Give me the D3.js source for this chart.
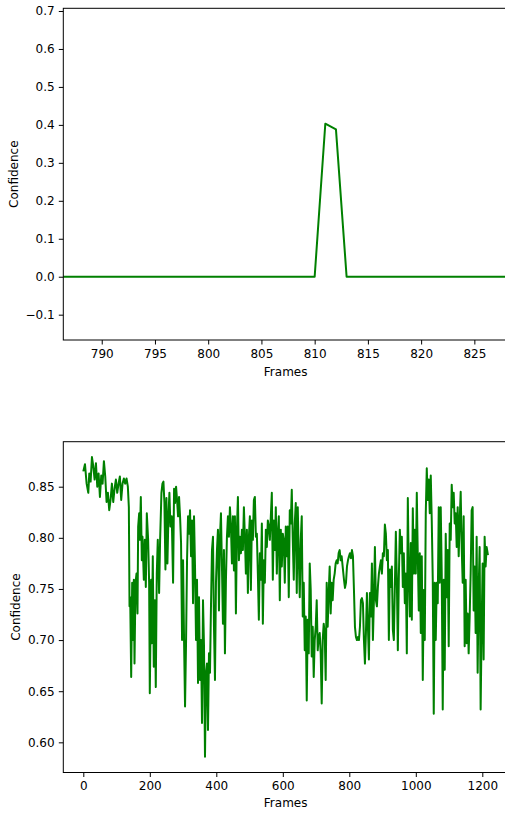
<!DOCTYPE html>
<html>
<head>
<meta charset="utf-8">
<script src="https://cdn.jsdelivr.net/npm/d3@7"></script>
<style>
  body { margin: 0; background: #fff; }
  svg { display: block; font-family: "DejaVu Sans", sans-serif; }
</style>
</head>
<body>
<svg id="chart" width="505" height="813"></svg>
<script>
// ---- Upper panel: confidence around frame 810 ----
const peakFrames = d3.range(786, 830);
const peakValues = [
  0, 0, 0, 0, 0, 0, 0, 0, 0, 0,      // 786-795
  0, 0, 0, 0, 0, 0, 0, 0, 0, 0,      // 796-805
  0, 0, 0, 0, 0, 0.403, 0.388, 0, 0, 0, // 806-815
  0, 0, 0, 0, 0, 0, 0, 0, 0, 0,      // 816-825
  0, 0, 0, 0                         // 826-829
];
const peakXTicks = [790, 795, 800, 805, 810, 815, 820, 825];
const peakYTicks = [-0.1, 0.0, 0.1, 0.2, 0.3, 0.4, 0.5, 0.6, 0.7];

// ---- Lower panel: confidence over the whole clip, [frame, confidence] ----
const traceStart = [
  [0,0.865],[5,0.872],[10,0.853],[15,0.844],[18,0.863],[22,0.855],[26,0.879],[30,0.870],[34,0.857],[38,0.873],
  [42,0.850],[46,0.863],[50,0.840],[54,0.861],[58,0.853],[62,0.875],[66,0.860],[70,0.835],[74,0.844],[78,0.827],
  [82,0.837],[86,0.853],[90,0.835],[94,0.848],[98,0.857],[102,0.844],[106,0.853],[110,0.860],[114,0.837],[118,0.853],
  [122,0.858],[126,0.853],[130,0.858],[134,0.850],[137,0.830],[139,0.733],[141,0.742],[144,0.664],[147,0.756],[150,0.700],
  [152,0.759],[154,0.677],[157,0.756],[160,0.765],[163,0.726],[165,0.811],[168,0.824],[170,0.798],[173,0.840],[176,0.778],
  [178,0.801],[182,0.759],[185,0.798],[188,0.752],[191,0.824],[195,0.798],[198,0.756],[200,0.648]
];
const traceEarly = [
  [204,0.759],[206,0.697],[209,0.782],[212,0.674],[215,0.739],[218,0.654],[221,0.765],[224,0.798],[228,0.746],[231,0.798],
  [235,0.844],[238,0.853],[241,0.855],[244,0.834],[247,0.769],[250,0.839],[253,0.775],[256,0.821],[259,0.844],[262,0.811],
  [266,0.821],[270,0.756],[273,0.848],[276,0.834],[279,0.850],[282,0.837],[285,0.821],[288,0.840],[291,0.821],[294,0.795],
  [297,0.700],[300,0.778],[303,0.700],[306,0.635],[309,0.697],[312,0.778],[315,0.821],[318,0.804],[321,0.827],[324,0.782],
  [327,0.817],[330,0.736],[333,0.821],[336,0.772],[339,0.700],[342,0.759],[345,0.658],[348,0.742],[351,0.661],[354,0.700],
  [357,0.619],[360,0.739],[363,0.694],[366,0.586],[369,0.668],[372,0.677],[375,0.612],[378,0.687],[381,0.668],[384,0.733],
  [387,0.788],[390,0.801],[393,0.713],[396,0.661],[399,0.756],[402,0.788],[405,0.808],[408,0.729],[411,0.801],[414,0.824],
  [417,0.772],[420,0.716],[423,0.788],[426,0.687],[429,0.759],[432,0.801],[435,0.821],[438,0.801],[441,0.830],[444,0.811],
  [447,0.775],[450,0.821],[453,0.768]
];
const traceMiddle = [
  [456,0.821],[459,0.726],[462,0.808],[465,0.840],[468,0.778],[471,0.801],[474,0.785],[477,0.808],[480,0.788],[483,0.830],
  [486,0.801],[489,0.765],[492,0.808],[495,0.746],[498,0.801],[501,0.821],[504,0.749],[507,0.817],[510,0.798],[513,0.837],
  [516,0.840],[519,0.801],[522,0.804],[525,0.765],[528,0.720],[531,0.785],[534,0.759],[537,0.814],[540,0.716],[543,0.778],
  [546,0.756],[549,0.808],[552,0.791],[555,0.817],[558,0.811],[561,0.798],[564,0.821],[567,0.844],[570,0.759],[573,0.817],
  [576,0.788],[579,0.830],[582,0.765],[585,0.804],[588,0.821],[591,0.739],[594,0.808],[597,0.772],[600,0.804],[603,0.798],
  [606,0.756],[609,0.811],[612,0.782],[615,0.811],[618,0.742],[621,0.827],[624,0.814],[627,0.847],[630,0.798],[633,0.759],
  [636,0.814],[639,0.834],[642,0.746],[645,0.830],[648,0.782],[651,0.742],[654,0.798],[657,0.821],[660,0.723],[663,0.756],
  [666,0.690],[669,0.723],[672,0.641],[675,0.720],[678,0.687],[681,0.775],[684,0.749],[687,0.684],[690,0.713],[693,0.664],
  [696,0.700],[699,0.713],[702,0.739],[705,0.690],[708,0.703]
];
const traceLate = [
  [711,0.707],[714,0.687],[717,0.638],[720,0.700],[723,0.716],[726,0.707],[729,0.661],[732,0.756],[735,0.713],[738,0.746],
  [741,0.772],[744,0.726],[747,0.756],[750,0.739],[753,0.759],[756,0.765],[759,0.775],[762,0.778],[765,0.775],[768,0.785],
  [771,0.788],[774,0.778],[777,0.782],[780,0.772],[784,0.759],[787,0.751],[790,0.756],[793,0.772],[796,0.778],[799,0.782],
  [802,0.785],[805,0.780],[808,0.788],[811,0.782],[814,0.749],[817,0.713],[820,0.703],[823,0.700],[826,0.703],[829,0.700],
  [832,0.713],[835,0.739],[838,0.741],[841,0.736],[844,0.700],[847,0.677],[850,0.707],[853,0.746],[856,0.713],[859,0.681],
  [862,0.746],[865,0.723],[868,0.775],[871,0.700],[874,0.739],[877,0.791],[880,0.739],[883,0.733],[886,0.752],[889,0.765],
  [892,0.772],[895,0.778],[898,0.765],[901,0.785],[904,0.782],[907,0.813],[910,0.804],[913,0.778],[916,0.788],[919,0.700],
  [922,0.769],[925,0.752],[928,0.772],[931,0.710],[934,0.700],[937,0.752],[940,0.806],[943,0.759],[946,0.690],[949,0.762],
  [952,0.808],[955,0.785],[958,0.801],[961,0.752],[964,0.785]
];
const traceEnd = [
  [967,0.736],[970,0.765],[973,0.687],[976,0.839],[979,0.765],[982,0.723],[985,0.795],[988,0.720],[991,0.829],[994,0.765],
  [997,0.808],[1000,0.765],[1003,0.844],[1006,0.782],[1009,0.729],[1012,0.785],[1015,0.707],[1018,0.782],[1021,0.661],[1024,0.749],
  [1027,0.700],[1030,0.824],[1033,0.868],[1036,0.837],[1039,0.857],[1042,0.824],[1045,0.861],[1048,0.817],[1051,0.759],[1054,0.628],
  [1057,0.756],[1060,0.700],[1063,0.756],[1066,0.736],[1069,0.830],[1072,0.756],[1075,0.830],[1078,0.765],[1081,0.632],[1084,0.759],
  [1087,0.671],[1090,0.804],[1093,0.742],[1096,0.788],[1099,0.694],[1102,0.814],[1105,0.798],[1108,0.852],[1111,0.830],[1114,0.844],
  [1117,0.814],[1120,0.824],[1123,0.791],[1126,0.830],[1129,0.782],[1132,0.817],[1135,0.845],[1138,0.791],[1141,0.756],[1144,0.821],
  [1147,0.694],[1150,0.759],[1153,0.697],[1156,0.726],[1159,0.687],[1162,0.723],[1165,0.765],[1168,0.827],[1171,0.830],[1174,0.729],
  [1177,0.772],[1180,0.707],[1183,0.801],[1186,0.668],[1189,0.749],[1192,0.791],[1195,0.632],[1198,0.713],[1201,0.775],[1204,0.681],
  [1207,0.801],[1210,0.772],[1213,0.791],[1217,0.783]
];
const traceXTicks = [0, 200, 400, 600, 800, 1000, 1200];
const traceYTicks = [0.60, 0.65, 0.70, 0.75, 0.80, 0.85];

const LINE_COLOR = "#008000";
const svg = d3.select("#chart");

function drawPanel(cfg) {
  const x = d3.scaleLinear().domain(cfg.xDomain).range([cfg.left, cfg.right]);
  const y = d3.scaleLinear().domain(cfg.yDomain).range([cfg.bottom, cfg.top]);
  const g = svg.append("g");

  const clipId = "clip-" + cfg.id;
  g.append("clipPath").attr("id", clipId)
    .append("rect")
    .attr("x", cfg.left).attr("y", cfg.top)
    .attr("width", cfg.right - cfg.left).attr("height", cfg.bottom - cfg.top);

  const line = d3.line().x(d => x(d[0])).y(d => y(d[1]));
  g.append("path")
    .datum(cfg.data)
    .attr("clip-path", `url(#${clipId})`)
    .attr("fill", "none")
    .attr("stroke", LINE_COLOR)
    .attr("stroke-width", 2)
    .attr("stroke-linejoin", "round")
    .attr("d", line);

  const xAxis = g.append("g")
    .attr("transform", `translate(0,${cfg.bottom})`)
    .call(d3.axisBottom(x).tickValues(cfg.xTicks).tickFormat(cfg.xFormat)
      .tickSize(4.5).tickPadding(4.5).tickSizeOuter(0));
  const yAxis = g.append("g")
    .attr("transform", `translate(${cfg.left},0)`)
    .call(d3.axisLeft(y).tickValues(cfg.yTicks).tickFormat(cfg.yFormat)
      .tickSize(4.5).tickPadding(4.2).tickSizeOuter(0));
  [xAxis, yAxis].forEach(a => {
    a.select(".domain").remove();
    a.selectAll(".tick line").attr("stroke", "#000").attr("stroke-width", 1);
    a.selectAll(".tick text").attr("fill", "#000")
      .style("font-size", "12px").style("font-family", "'DejaVu Sans', sans-serif");
  });

  // frame of the axes
  g.append("rect")
    .attr("x", cfg.left).attr("y", cfg.top)
    .attr("width", cfg.right - cfg.left).attr("height", cfg.bottom - cfg.top)
    .attr("fill", "none").attr("stroke", "#000").attr("stroke-width", 1);

  g.append("text")
    .attr("x", (cfg.left + cfg.right) / 2)
    .attr("y", cfg.xLabelY)
    .attr("text-anchor", "middle")
    .style("font-size", "12px")
    .text("Frames");

  g.append("text")
    .attr("transform", `translate(${cfg.yLabelX},${(cfg.top + cfg.bottom) / 2}) rotate(-90)`)
    .attr("text-anchor", "middle")
    .style("font-size", "12px")
    .text("Confidence");
}

drawPanel({
  id: "peak",
  left: 63.3, right: 508, top: 8.3, bottom: 340,
  xDomain: [786.39, 828.16], yDomain: [-0.1667, 0.7071],
  xTicks: peakXTicks, yTicks: peakYTicks,
  xFormat: d3.format("d"), yFormat: d3.format(".1f"),
  data: peakFrames.map((f, i) => [f, peakValues[i]]),
  xLabelY: 375.5, yLabelX: 18.3
});

drawPanel({
  id: "trace",
  left: 63.3, right: 508, top: 441.7, bottom: 772.5,
  xDomain: [-60.15, 1277.3], yDomain: [0.5705, 0.894],
  xTicks: traceXTicks, yTicks: traceYTicks,
  xFormat: d3.format("d"), yFormat: d3.format(".2f"),
  data: [...traceStart, ...traceEarly, ...traceMiddle, ...traceLate, ...traceEnd],
  xLabelY: 807, yLabelX: 19.5
});
</script>
</body>
</html>
